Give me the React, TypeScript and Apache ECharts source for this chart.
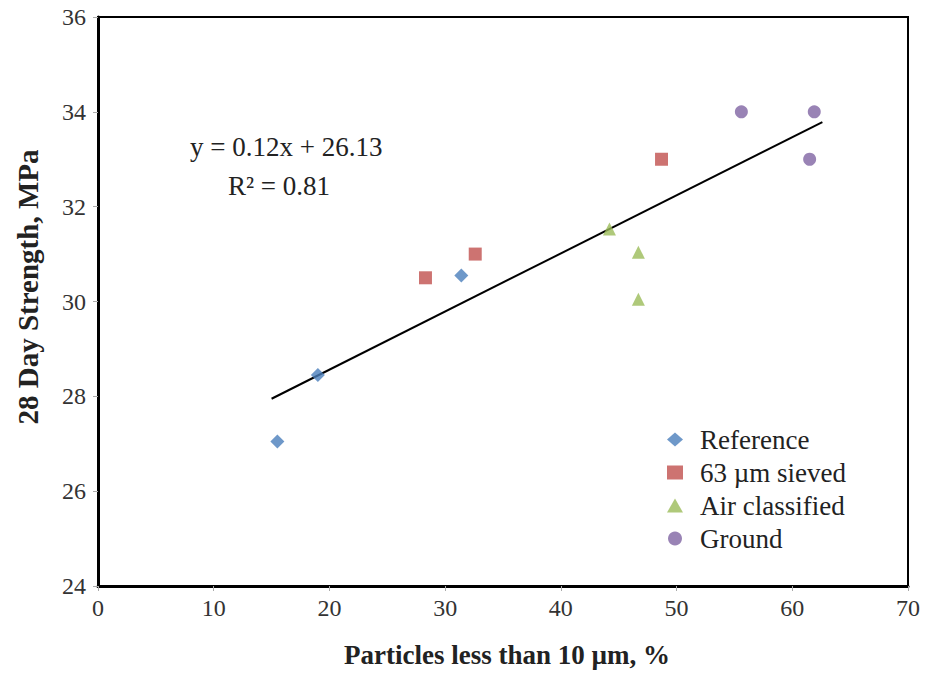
import React, { useEffect, useRef } from "react";
import * as echarts from "echarts";

const referenceData: number[][] = [
  [15.5, 27.05],
  [19.0, 28.45],
  [31.4, 30.55],
];
const sievedData: number[][] = [
  [28.3, 30.5],
  [32.6, 31.0],
  [48.7, 33.0],
];
const airData: number[][] = [
  [44.2, 31.53],
  [46.7, 31.04],
  [46.7, 30.05],
];
const groundData: number[][] = [
  [55.6, 34.0],
  [61.9, 34.0],
  [61.5, 33.0],
];
const trendSlope = 0.1226;
const trendIntercept = 26.11;
const trendRange = [15.0, 62.6];
const equationText = ["y = 0.12x + 26.13", "R² = 0.81"];
const seriesNames = ["Reference", "63 µm sieved", "Air classified", "Ground"];
const xTitle = "Particles less than 10 µm, %";
const yTitle = "28 Day Strength, MPa";

const FONT = "Liberation Serif";

export default function App() {
  const ref = useRef<HTMLDivElement>(null);
  useEffect(() => {
    if (!ref.current) return;
    const chart = echarts.init(ref.current, null, { renderer: "svg" });
    const trendLine = trendRange.map((x) => [x, trendSlope * x + trendIntercept]);
    const tickLabel = {
      fontFamily: FONT,
      fontSize: 24,
      color: "#333",
    };
    chart.setOption({
      animation: false,
      backgroundColor: "#fff",
      textStyle: { fontFamily: FONT },
      grid: {
        left: 98,
        top: 17,
        right: 23,
        bottom: 91,
        show: true,
        borderColor: "#000",
        borderWidth: 2,
      },
      xAxis: {
        type: "value",
        min: 0,
        max: 70,
        interval: 10,
        axisLine: { show: true, onZero: false, lineStyle: { color: "#000", width: 3 } },
        axisTick: { show: true, length: 5, lineStyle: { color: "#aaa" } },
        axisLabel: { ...tickLabel, margin: 10 },
        splitLine: { show: false },
      },
      yAxis: {
        type: "value",
        min: 24,
        max: 36,
        interval: 2,
        axisLine: { show: true, onZero: false, lineStyle: { color: "#000", width: 3 } },
        axisTick: { show: true, length: 5, lineStyle: { color: "#aaa" } },
        axisLabel: { ...tickLabel, margin: 12 },
        splitLine: { show: false },
      },
      legend: {
        orient: "vertical",
        left: 662,
        top: 421,
        itemGap: 6,
        itemWidth: 16,
        itemHeight: 14,
        data: seriesNames,
        textStyle: { fontFamily: FONT, fontSize: 27, color: "#222", padding: [0, 0, 0, 12] },
      },
      series: [
        {
          name: seriesNames[0],
          type: "scatter",
          symbol: "diamond",
          symbolSize: 14,
          itemStyle: { color: "#4A7EBB" },
          data: referenceData,
          z: 3,
        },
        {
          name: seriesNames[1],
          type: "scatter",
          symbol: "rect",
          symbolSize: 13,
          itemStyle: { color: "#C0504D" },
          data: sievedData,
          z: 3,
        },
        {
          name: seriesNames[2],
          type: "scatter",
          symbol: "triangle",
          symbolSize: 13,
          itemStyle: { color: "#9BBB59" },
          data: airData,
          z: 3,
        },
        {
          name: seriesNames[3],
          type: "scatter",
          symbol: "circle",
          symbolSize: 13,
          itemStyle: { color: "#8064A2" },
          data: groundData,
          z: 3,
        },
        {
          name: "Trend",
          type: "line",
          data: trendLine,
          showSymbol: false,
          symbol: "none",
          lineStyle: { color: "#000", width: 2 },
          z: 2,
        },
      ],
      graphic: [
        {
          type: "text",
          x: 190,
          y: 147,
          style: {
            text: equationText[0],
            fontFamily: FONT,
            fontSize: 27,
            fill: "#222",
            textAlign: "left",
            textVerticalAlign: "middle",
          },
        },
        {
          type: "text",
          x: 228,
          y: 186,
          style: {
            text: equationText[1],
            fontFamily: FONT,
            fontSize: 27,
            fill: "#222",
            textAlign: "left",
            textVerticalAlign: "middle",
          },
        },
        {
          type: "text",
          x: 507,
          y: 655,
          style: {
            text: xTitle,
            fontFamily: FONT,
            fontSize: 27,
            fontWeight: "bold",
            fill: "#222",
            textAlign: "center",
            textVerticalAlign: "middle",
          },
        },
        {
          type: "text",
          x: 28,
          y: 287,
          rotation: Math.PI / 2,
          style: {
            text: yTitle,
            fontFamily: FONT,
            fontSize: 29,
            fontWeight: "bold",
            fill: "#222",
            textAlign: "center",
            textVerticalAlign: "middle",
          },
        },
      ],
    });
    return () => chart.dispose();
  }, []);
  return (
    <div
      ref={ref}
      style={{ position: "absolute", left: 0, top: 0, width: 931, height: 677 }}
    />
  );
}
